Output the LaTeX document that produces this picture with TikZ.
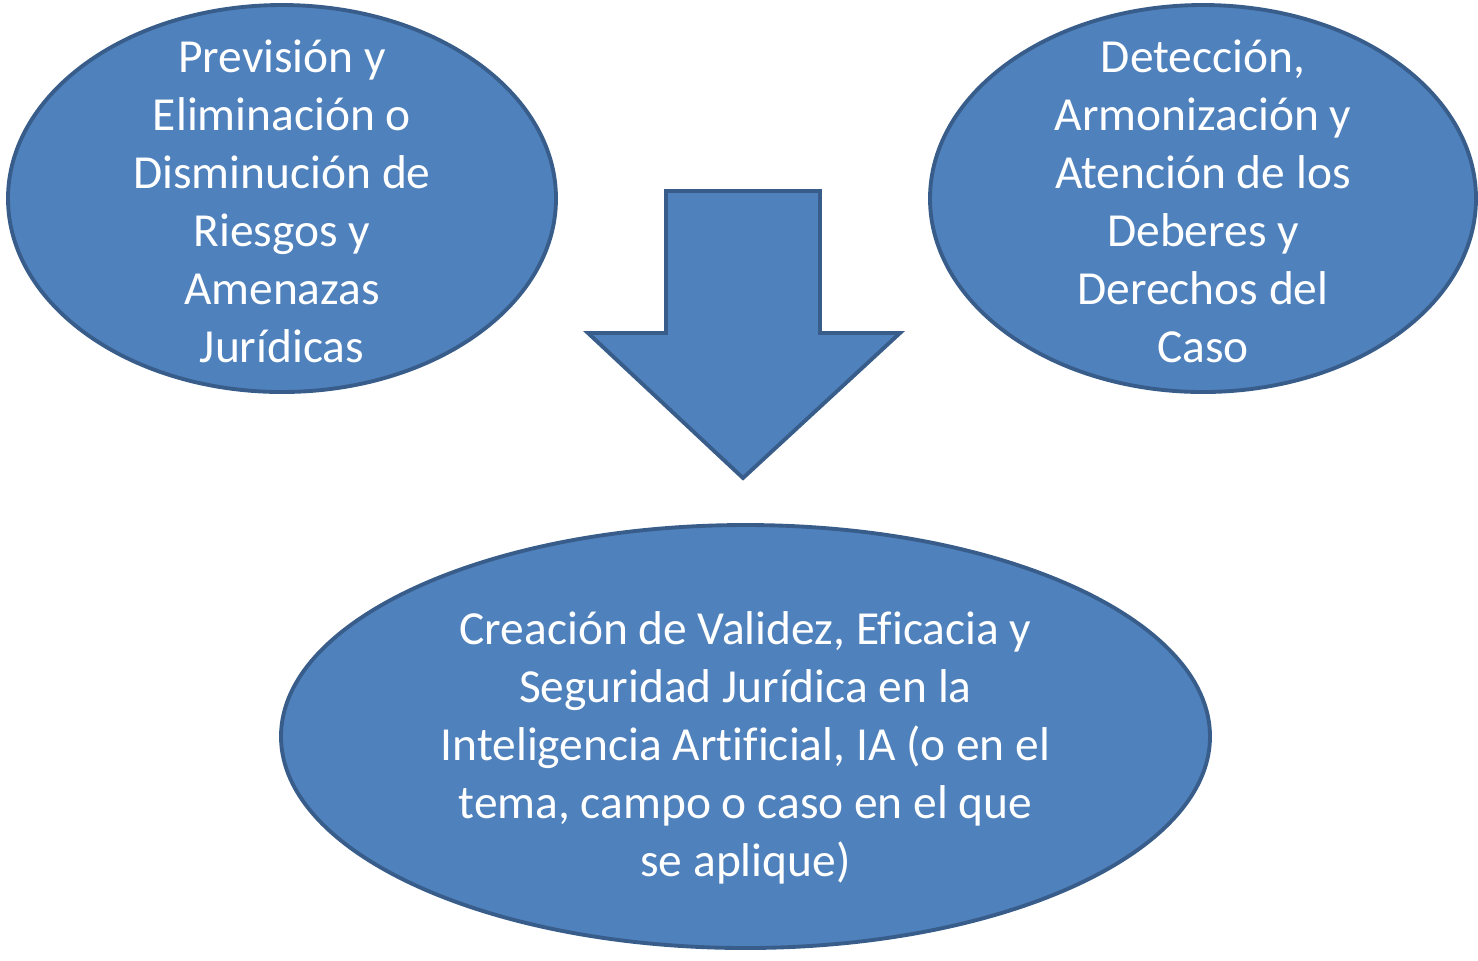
\documentclass[tikz,border=0pt]{standalone}
\usepackage{fontspec}
\setmainfont{Carlito}[Ligatures=NoCommon]
\usepackage{xcolor}
\definecolor{officeblue}{HTML}{4F81BD}
\definecolor{officeborder}{HTML}{385D8A}
\usetikzlibrary{shapes.geometric}

\begin{document}
\begin{tikzpicture}[
	bubble/.style = {draw = officeborder, line width = 1.1pt, ellipse, fill = officeblue, inner sep = 0pt},
	bubbletext/.style = {text = white, align = center, inner sep = 0pt, font = \fontsize{13.5}{16.5}\selectfont}
	]
	\useasboundingbox (0,0) rectangle (14.78,-9.6);
	
	\node[bubble, minimum width = 5.48cm, minimum height = 3.87cm] (prevision) at (2.82,-1.985) {};
	\node[bubbletext, yshift = -.03cm] (previsiontext) at (prevision.center) {Previsión y\\Eliminación o\\Disminución de\\Riesgos y\\Amenazas\\Jurídicas};
	
	\node[bubble, minimum width = 5.46cm, minimum height = 3.87cm] (deteccion) at (12.03,-1.985) {};
	\node[bubbletext, yshift = -.03cm] (detecciontext) at (deteccion.center) {Detección,\\Armonización y\\Atención de los\\Deberes y\\Derechos del\\Caso};
	
	\node[bubble, minimum width = 9.29cm, minimum height = 4.23cm] (creacion) at (7.455,-7.365) {};
	\node[bubbletext] (creaciontext) at (7.455,-7.48) {Creación de Validez, Eficacia y\\Seguridad Jurídica en la\\Inteligencia Artificial, IA (o en el\\tema, campo o caso en el que\\se aplique)};
	
	\draw[draw = officeborder, line width = 1.1pt, fill = officeblue, line join = miter] (6.66,-1.91) -- (8.20,-1.91) -- (8.20,-3.33) -- (9.00,-3.33) -- (7.43,-4.78) -- (5.88,-3.33) -- (6.66,-3.33) -- cycle;
\end{tikzpicture}
\end{document}
